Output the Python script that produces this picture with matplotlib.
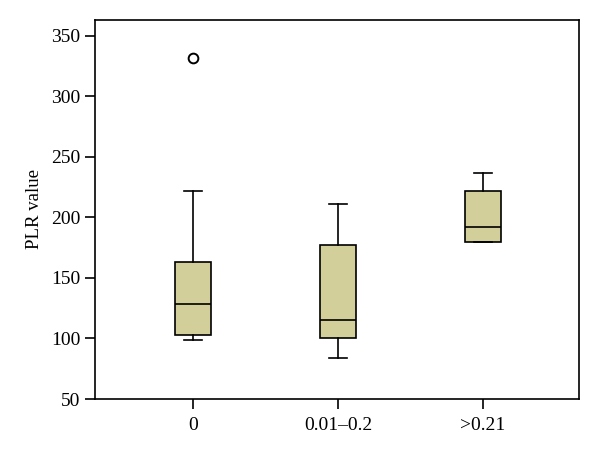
import matplotlib
matplotlib.use("Agg")
import matplotlib.pyplot as plt

# box statistics
groups = ["0", "0.01\u20130.2", ">0.21"]
q1 = [103, 100, 180]
medians = [128.5, 115, 192]
q3 = [163, 177, 222]
whislo = [99, 84, 180]
whishi = [222, 211, 237]
outliers = [[332], [], []]

plt.rcParams["font.family"] = ["Liberation Serif", "DejaVu Serif"]

stats = []
for i, g in enumerate(groups):
    stats.append(dict(label=g, med=medians[i], q1=q1[i], q3=q3[i],
                      whislo=whislo[i], whishi=whishi[i], fliers=outliers[i]))

fig = plt.figure(figsize=(6, 4.54), dpi=100)
ax = fig.add_axes([95 / 600, 1 - 399 / 454, 484 / 600, 379 / 454])

ax.bxp(stats, positions=[1, 2, 3], widths=0.25, patch_artist=True,
       boxprops=dict(facecolor="#d3cf9a", edgecolor="black", linewidth=1.2),
       medianprops=dict(color="black", linewidth=1.2),
       whiskerprops=dict(color="black", linewidth=1.2),
       capprops=dict(color="black", linewidth=1.2),
       capwidths=0.125,
       flierprops=dict(marker="o", markerfacecolor="white", markeredgecolor="black",
                       markersize=7, markeredgewidth=1.4))

ax.set_xlim(0.324, 3.662)
ax.set_ylim(50, 363)
ax.set_yticks([50, 100, 150, 200, 250, 300, 350])
ax.set_ylabel("PLR value", fontsize=13.5, labelpad=6)
ax.tick_params(axis="both", labelsize=14, direction="out", length=7, width=1.2)
ax.tick_params(axis="x", pad=6)
for s in ax.spines.values():
    s.set_linewidth(1.2)

fig.savefig("out.png", dpi=100)
